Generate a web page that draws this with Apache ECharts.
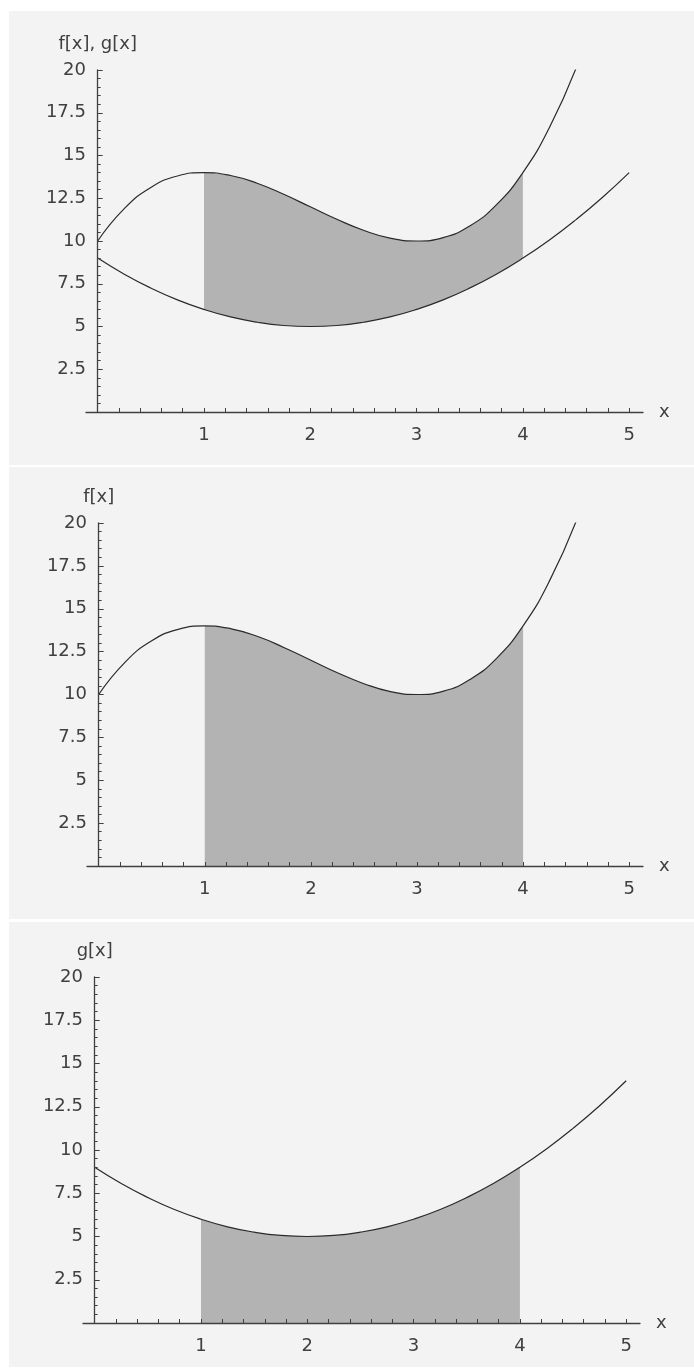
<!DOCTYPE html>
<html>
<head>
<meta charset="utf-8">
<script src="https://cdn.jsdelivr.net/npm/echarts@6/dist/echarts.min.js"></script>
<style>
  html, body { margin: 0; padding: 0; background: #fff; }
  .panel { position: absolute; left: 9px; width: 685px; background: #f3f3f3; }
  #chart { position: absolute; left: 0; top: 0; width: 694px; height: 1369px; }
</style>
</head>
<body>
<div class="panel" style="top: 11px; height: 454px;"></div>
<div class="panel" style="top: 467px; height: 452px;"></div>
<div class="panel" style="top: 922px; height: 445px;"></div>
<div id="chart"></div>
<script>
// values
const xF = [0, 0.25, 0.5, 0.75, 1, 1.25, 1.5, 1.75, 2, 2.25, 2.5, 2.75, 3, 3.25, 3.5, 3.75, 4, 4.25, 4.5]
const fValues = [10, 11.89, 13.13, 13.8, 14, 13.83, 13.38, 12.73, 12, 11.27, 10.63, 10.17, 10, 10.2, 10.88, 12.11, 14, 16.64, 20.1]
const xG = [0, 0.25, 0.5, 0.75, 1, 1.25, 1.5, 1.75, 2, 2.25, 2.5, 2.75, 3, 3.25, 3.5, 3.75, 4, 4.25, 4.5, 4.75, 5]
const gValues = [9, 8.06, 7.25, 6.56, 6, 5.56, 5.25, 5.06, 5, 5.06, 5.25, 5.56, 6, 6.56, 7.25, 8.06, 9, 10.06, 11.25, 12.56, 14]
const shadeRange = [1, 4]
const xTickLabels = [1, 2, 3, 4, 5]
const xTickValues = [0.2, 0.4, 0.6, 0.8, 1, 1.2, 1.4, 1.6, 1.8, 2, 2.2, 2.4, 2.6, 2.8, 3, 3.2, 3.4, 3.6, 3.8, 4, 4.2, 4.4, 4.6, 4.8, 5]
const yTickLabels = [2.5, 5, 7.5, 10, 12.5, 15, 17.5, 20]
const panelTitles = ['f[x], g[x]', 'f[x]', 'g[x]']

const BG = '#f3f3f3'
const SHADE = '#b3b3b3'
const INK = '#404040'
const FONT = 'DejaVu Sans'

const grids = [
  { left: 86, top: 70, width: 557, height: 342 },
  { left: 87, top: 523, width: 556, height: 343 },
  { left: 83, top: 977, width: 557, height: 346 }
]

function toPoints(xs, ys) {
  return xs.map((x, i) => [x, ys[i]])
}
function inRange(points) {
  return points.filter((p) => p[0] >= shadeRange[0] && p[0] <= shadeRange[1])
}

const fPoints = toPoints(xF, fValues)
const gPoints = toPoints(xG, gValues)

function curve(points, idx) {
  return {
    type: 'line',
    xAxisIndex: idx,
    yAxisIndex: idx,
    data: points,
    smooth: true,
    showSymbol: false,
    silent: true,
    lineStyle: { color: '#2a2a2a', width: 1.2 }
  }
}
function area(points, idx, color) {
  return {
    type: 'line',
    xAxisIndex: idx,
    yAxisIndex: idx,
    data: points,
    smooth: true,
    showSymbol: false,
    silent: true,
    lineStyle: { width: 0, opacity: 0 },
    areaStyle: { color: color, opacity: 1 }
  }
}

const labelStyle = { color: INK, fontFamily: FONT, fontSize: 18 }

const xAxes = grids.map((g, i) => ({
  type: 'value',
  gridIndex: i,
  min: -0.11,
  max: 5.13,
  z: 5,
  name: 'x',
  nameLocation: 'end',
  nameGap: 16,
  nameTextStyle: labelStyle,
  splitLine: { show: false },
  axisLine: { onZero: true, lineStyle: { color: INK, width: 1.3 } },
  axisTick: { inside: true, length: 4, customValues: xTickValues, lineStyle: { color: INK, width: 1 } },
  axisLabel: { customValues: xTickLabels, margin: 14, ...labelStyle }
}))

const yAxes = grids.map((g, i) => ({
  type: 'value',
  gridIndex: i,
  min: 0,
  max: 20,
  interval: 2.5,
  z: 5,
  name: panelTitles[i],
  nameLocation: 'end',
  nameGap: 17,
  nameTextStyle: { ...labelStyle, align: 'center' },
  splitLine: { show: false },
  axisLine: { onZero: true, lineStyle: { color: INK, width: 1.3 } },
  axisTick: { inside: true, length: 5, lineStyle: { color: INK, width: 1 } },
  minorTick: { show: true, splitNumber: 5, length: 3, lineStyle: { color: INK, width: 1 } },
  axisLabel: { customValues: yTickLabels, margin: 0, ...labelStyle }
}))

const series = [
  // panel 1: band between f and g (g's area painted over in the panel colour)
  area(inRange(fPoints), 0, SHADE),
  area(gPoints, 0, BG),
  curve(fPoints, 0),
  curve(gPoints, 0),
  // panel 2: under f
  area(inRange(fPoints), 1, SHADE),
  curve(fPoints, 1),
  // panel 3: under g
  area(inRange(gPoints), 2, SHADE),
  curve(gPoints, 2)
]

const chart = echarts.init(document.getElementById('chart'))
chart.setOption({
  animation: false,
  backgroundColor: 'transparent',
  grid: grids,
  xAxis: xAxes,
  yAxis: yAxes,
  series: series
})
</script>
</body>
</html>
